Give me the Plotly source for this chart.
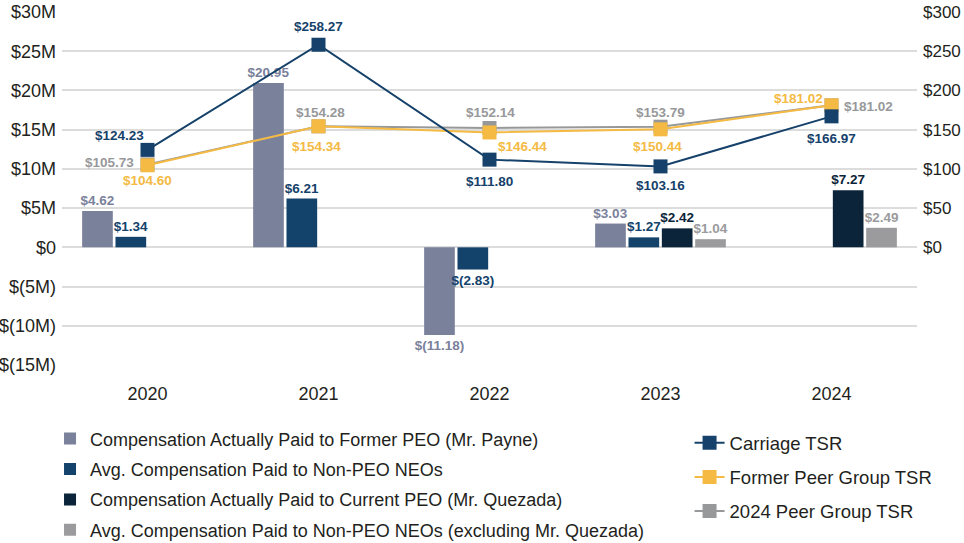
import plotly.graph_objects as go

years = ["2020", "2021", "2022", "2023", "2024"]

# Bars (millions of $)
former_peo = [4.62, 20.95, -11.18, 3.03, None]
avg_non_peo = [1.34, 6.21, -2.83, 1.27, None]
current_peo = [None, None, None, 2.42, 7.27]
avg_non_peo_excl = [None, None, None, 1.04, 2.49]

# Lines (TSR, $)
carriage_tsr = [124.23, 258.27, 111.80, 103.16, 166.97]
former_peer_tsr = [104.60, 154.34, 146.44, 150.44, 181.02]
peer2024_tsr = [105.73, 154.28, 152.14, 153.79, 181.02]

left_ticks = [-15, -10, -5, 0, 5, 10, 15, 20, 25, 30]
right_ticks = [0, 50, 100, 150, 200, 250, 300]

C_PAYNE = "#7a819b"
C_NONPEO = "#13426b"
C_CUR = "#0b2439"
C_EXCL = "#9b9b9d"
C_CARR = "#15416a"
C_FORMER = "#f4ba43"
C_P24 = "#97989a"

FONT = "Liberation Sans, Arial, sans-serif"
LBL = 13.5


def money(v):
    if v is None:
        return ""
    if v < 0:
        return "$({:.2f})".format(-v)
    return "${:.2f}".format(v)


def mtick(v):
    if v < 0:
        return "$({}M)".format(-v)
    if v == 0:
        return "$0"
    return "${}M".format(v)


fig = go.Figure()

bar_specs = [
    ("Compensation Actually Paid to Former PEO (Mr. Payne)", former_peo, C_PAYNE),
    ("Avg. Compensation Paid to Non-PEO NEOs", avg_non_peo, C_NONPEO),
    ("Compensation Actually Paid to Current PEO (Mr. Quezada)", current_peo, C_CUR),
    ("Avg. Compensation Paid to Non-PEO NEOs (excluding Mr. Quezada)", avg_non_peo_excl, C_EXCL),
]
for i, (name, vals, col) in enumerate(bar_specs):
    fig.add_trace(go.Bar(
        x=years, y=vals, name=name, marker=dict(color=col, line=dict(width=0)),
        text=[money(v) for v in vals], textposition="outside", textangle=0,
        constraintext="none", cliponaxis=False,
        textfont=dict(color=col, size=LBL, family=FONT, weight=700),
        legend="legend", legendgroup="b%d" % i, legendrank=i + 1,
        hoverinfo="skip",
    ))

line_specs = [
    ("2024 Peer Group TSR", peer2024_tsr, C_P24, 3),
    ("Former Peer Group TSR", former_peer_tsr, C_FORMER, 2),
    ("Carriage TSR", carriage_tsr, C_CARR, 1),
]
for name, vals, col, rank in line_specs:
    fig.add_trace(go.Scatter(
        x=years, y=vals, name=name, yaxis="y2", mode="lines+markers",
        line=dict(color=col, width=2), marker=dict(symbol="square", size=14, color=col),
        legend="legend2", legendgroup="l%d" % rank, legendrank=rank, cliponaxis=False,
        hoverinfo="skip",
    ))

# label offsets (pixels) for line labels
carr_off = [(-28, 14), (0, 18), (0, -22), (0, -19), (0, -22)]
former_off = [(0, -15), (-2, -20), (33, -14), (-3, -17), (-33, 7)]
p24_off = [(-38, 2), (2, 14), (1, 15), (0, 14), (37, -1)]

annotations = []
for vals, offs, col in [(peer2024_tsr, p24_off, C_P24), (former_peer_tsr, former_off, C_FORMER),
                        (carriage_tsr, carr_off, C_CARR)]:
    for i, (v, (dx, dy)) in enumerate(zip(vals, offs)):
        annotations.append(dict(
            x=i, y=v, xref="x", yref="y2", text=money(v), showarrow=False,
            xshift=dx, yshift=dy, font=dict(color=col, size=LBL, family=FONT, weight=700),
        ))

fig.update_layout(
    width=964, height=543,
    margin=dict(l=62, r=47, t=12, b=178, autoexpand=False),
    paper_bgcolor="white", plot_bgcolor="white",
    font=dict(family=FONT, color="#231f20", size=16),
    barmode="group", bargap=0.22, bargroupgap=0.08,
    showlegend=True,
    xaxis=dict(type="category", range=[-0.5, 4.5], showgrid=False, showline=False, ticks="",
               tickfont=dict(size=18, color="#231f20"), ticklabelstandoff=16, automargin=False),
    yaxis=dict(range=[-15, 30], tickvals=left_ticks, ticktext=[mtick(v) for v in left_ticks],
               showgrid=True, gridcolor="#dcdcdc", gridwidth=1.5, zeroline=True,
               zerolinecolor="#dcdcdc", zerolinewidth=1.5, showline=False, ticks="",
               tickfont=dict(size=18, color="#231f20"), ticklabelstandoff=5, automargin=False),
    yaxis2=dict(range=[-150, 300], overlaying="y", side="right", tickvals=right_ticks,
                ticktext=["$%d" % v for v in right_ticks], showgrid=False, zeroline=False,
                showline=False, ticks="", tickfont=dict(size=17, color="#231f20"),
                ticklabelstandoff=5, automargin=False),
    legend=dict(x=-0.014, y=-0.157, xanchor="left", yanchor="top", orientation="v",
                font=dict(size=18, color="#231f20"), tracegroupgap=4,
                bgcolor="rgba(0,0,0,0)"),
    legend2=dict(x=0.734, y=-0.168, xanchor="left", yanchor="top", orientation="v",
                 font=dict(size=18.5, color="#231f20"), tracegroupgap=7,
                 bgcolor="rgba(0,0,0,0)"),
    annotations=annotations,
)

fig.write_html("out.html")
